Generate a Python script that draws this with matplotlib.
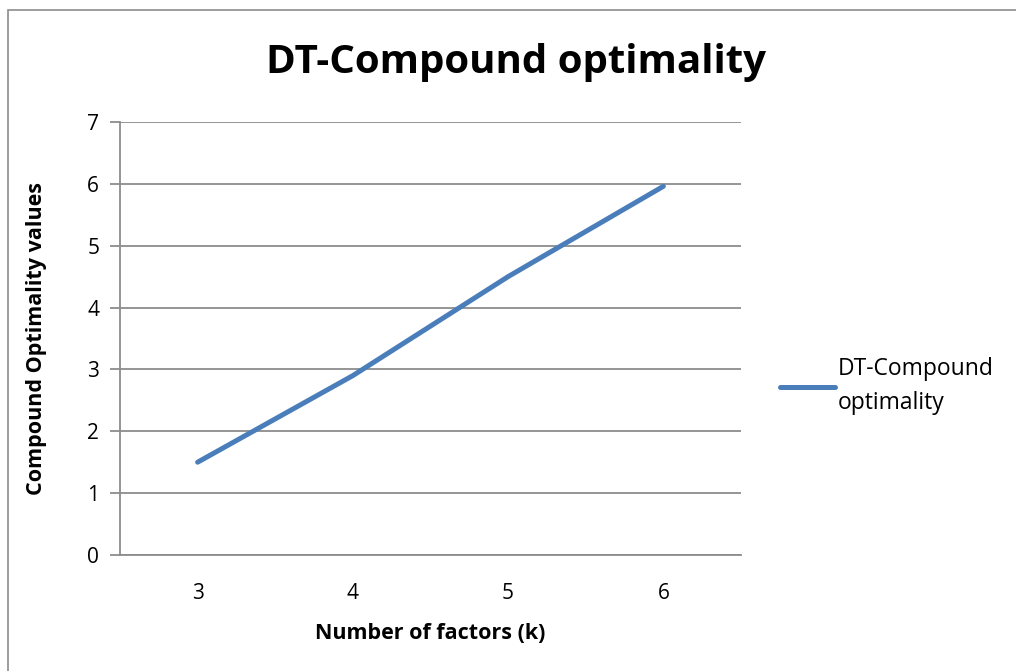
import matplotlib
matplotlib.use("Agg")
import matplotlib.pyplot as plt
from matplotlib.patches import Rectangle

# data
factors = ["3", "4", "5", "6"]
values = [1.5, 2.9, 4.5, 5.96]
series_name = "DT-Compound\noptimality"

plt.rcParams['font.family'] = ['Open Sans', 'DejaVu Sans']

fig = plt.figure(figsize=(10.16, 6.71), dpi=100)
ax = fig.add_axes([0.1181, 0.1729, 0.6112, 0.6453])

# outer chart border (top/left visible only, rest clipped)
fig.patches.append(Rectangle((8 / 1016, -0.1), 1.2, 1 - 10 / 671 + 0.1,
                             transform=fig.transFigure, fill=False,
                             edgecolor='#8c8c8c', linewidth=1.2))

x = range(len(factors))
ax.plot(x, values, color='#4a7ebb', linewidth=3.6, solid_capstyle='round',
        label=series_name)

ax.set_xlim(-0.5, len(factors) - 0.5)
ax.set_ylim(0, 7)
ax.set_yticks(range(0, 8))
ax.set_xticks(list(x))
ax.set_xticklabels(factors)
ax.grid(axis='y', color='#8c8c8c', linewidth=1.3)
ax.set_axisbelow(True)

for s in ['top', 'right']:
    ax.spines[s].set_visible(False)
for s in ['left', 'bottom']:
    ax.spines[s].set_color('#8c8c8c')
    ax.spines[s].set_linewidth(1.3)
ax.tick_params(axis='y', length=7, width=1.3, color='#8c8c8c', labelsize=15, pad=8)
ax.tick_params(axis='x', length=0, labelsize=15, pad=20)

fig.text(0.508, 1 - 62 / 671, "DT-Compound optimality", fontsize=29,
         fontweight='bold', ha='center', va='center')
ax.set_xlabel("Number of factors (k)", fontsize=15.5, fontweight='bold', labelpad=14)
ax.set_ylabel("Compound Optimality values", fontsize=15.5, fontweight='bold', labelpad=29)

leg = ax.legend(loc='center left', bbox_to_anchor=(1.03, 0.39), frameon=False,
                fontsize=16.5, handlelength=2.4, handletextpad=0.1)
for t in leg.get_texts():
    t.set_linespacing(1.55)

fig.savefig("out.png", dpi=100)
